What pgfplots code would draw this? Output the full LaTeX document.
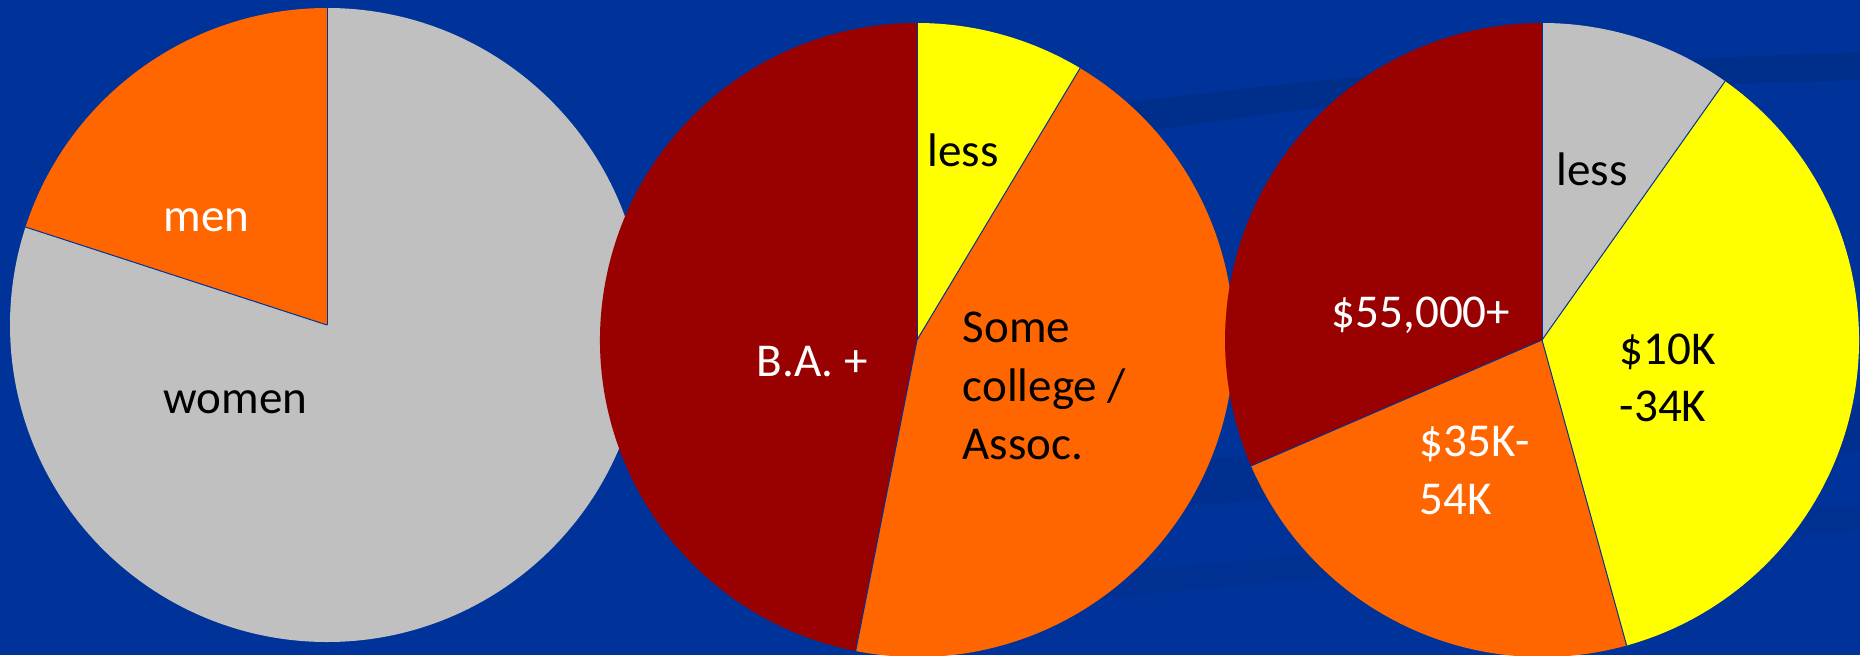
\documentclass[border=0pt]{standalone}
\usepackage{pgfplots}
\pgfplotsset{compat=1.18}
\usepackage{fontspec}
\setmainfont{Carlito}

\definecolor{bg}{HTML}{003399}
\definecolor{band}{HTML}{002C86}
\definecolor{pgray}{HTML}{C0C0C0}
\definecolor{porange}{HTML}{FF6600}
\definecolor{pred}{HTML}{990000}
\definecolor{pyellow}{HTML}{FFFF00}

% one pixel of the slide = 0.1mm, pie radius 317 px
\def\R{31.7mm}

% #1 = centre (x,y in slide pixels), #2 = list of percent/colour, clockwise from 12 o'clock
\newcommand\pie[2]{%
  \xdef\pieang{90}%
  \foreach \p/\c in {#2}{%
    \pgfmathsetmacro\pieend{\pieang-3.6*\p}%
    \edef\doslice{\noexpand\fill[\c] (axis cs:#1) -- +(\pieang:\R)
      arc[start angle=\pieang, end angle=\pieend, radius=\R] -- cycle;}%
    \doslice
    \xdef\pieang{\pieend}%
  }%
  \xdef\pieang{90}%
  \foreach \p/\c in {#2}{%
    \edef\doline{\noexpand\draw[bg, line width=0.1mm] (axis cs:#1) -- +(\pieang:\R);}%
    \doline
    \pgfmathsetmacro\pieend{\pieang-3.6*\p}%
    \xdef\pieang{\pieend}%
  }%
}

\begin{document}
\begin{tikzpicture}[lbl/.style={anchor=base west, inner sep=0pt,
    font=\fontsize{13.4}{16}\selectfont}]
\begin{axis}[
  width=186mm, height=65.5mm, scale only axis,
  xmin=0, xmax=1860, ymin=0, ymax=655, y dir=reverse,
  hide axis, clip=true,
]
\fill[bg] (axis cs:0,0) rectangle (axis cs:1860,655);
% faint streaks of the slide background
\fill[band, opacity=0.7] (axis cs:1120,103) .. controls (axis cs:1400,70) .. (axis cs:1860,52)
  -- (axis cs:1860,80) .. controls (axis cs:1400,95) .. (axis cs:1120,135) -- cycle;
\fill[band, opacity=0.5] (axis cs:1080,470) -- (axis cs:1860,405)
  -- (axis cs:1860,450) -- (axis cs:1080,515) -- cycle;
\fill[band, opacity=0.35] (axis cs:1080,575) -- (axis cs:1860,505)
  -- (axis cs:1860,530) -- (axis cs:1080,600) -- cycle;

% gender
\pie{327,325}{80/pgray, 20/porange}
% education
\pie{917,340}{8.6/pyellow, 44.5/porange, 46.9/pred}
% income
\pie{1542,340}{9.8/pgray, 35.9/pyellow, 22.8/porange, 31.5/pred}

\node[lbl, white] at (axis cs:163,231) {men};
\node[lbl, black] at (axis cs:163,413) {women};

\node[lbl, black] at (axis cs:927,166) {less};
\node[lbl, white] at (axis cs:756,376) {B.A. +};
\node[lbl, black] at (axis cs:962,342) {Some};
\node[lbl, black] at (axis cs:962,401) {college /};
\node[lbl, black] at (axis cs:962,459) {Assoc.};

\node[lbl, black] at (axis cs:1556,185) {less};
\node[lbl, white] at (axis cs:1331,327) {\$55,000+};
\node[lbl, black] at (axis cs:1619,364) {\$10K};
\node[lbl, black] at (axis cs:1619,421) {-34K};
\node[lbl, white] at (axis cs:1419,456) {\$35K-};
\node[lbl, white] at (axis cs:1419,514) {54K};
\end{axis}
\end{tikzpicture}
\end{document}
